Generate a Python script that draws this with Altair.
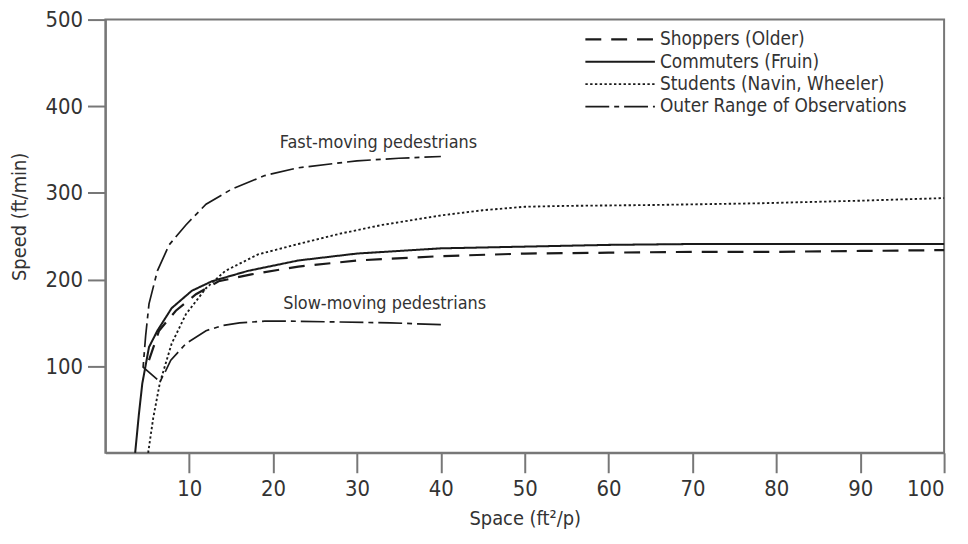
import altair as alt
import pandas as pd

# ---- data ----
series_names = [
    "Shoppers (Older)",
    "Commuters (Fruin)",
    "Students (Navin, Wheeler)",
    "Outer Range of Observations",
]

shoppers_x = [5.2, 6.4, 8.4, 10.8, 13.5, 17.4, 23, 30, 40, 50, 60, 70, 80, 90, 100]
shoppers_y = [107, 141, 164, 183, 198, 206, 215, 222, 227, 230, 231, 232, 232, 233, 234]

commuters_x = [3.55, 4.0, 4.4, 5.2, 6.2, 7.9, 10.3, 12.7, 17, 23, 30, 40, 50, 60, 70, 80, 90, 100]
commuters_y = [0, 45, 80, 122, 141, 167, 187, 198, 210, 222, 230, 236, 238, 240, 241, 241, 241, 241]

students_x = [5.1, 5.7, 6.5, 7.9, 9.6, 12, 14.3, 18.2, 23, 28, 33, 40, 45, 50, 55, 65, 78, 90, 100]
students_y = [0, 40, 81, 126, 160, 190, 210, 229, 241, 253, 263, 274, 280, 284, 285, 286, 288, 291, 294]

# outer envelope: slow-moving branch (right to left), joint, fast-moving branch
outer_x = [40, 34, 28, 22, 19, 16, 14, 12, 9.6, 7.8, 7.2, 6.5, 4.5, 4.8, 5.2, 6.2, 7.6, 9.6, 12, 15, 19, 23, 30, 35, 40]
outer_y = [148, 150, 151, 152, 152, 150, 147, 141, 126, 107, 95, 82, 99, 135, 172, 210, 240, 263, 287, 304, 320, 329, 337, 340, 342]

annotation_text = ["Fast-moving pedestrians", "Slow-moving pedestrians"]
annotation_x = [20.8, 21.2]
annotation_y = [357, 172]

x_ticks = [10, 20, 30, 40, 50, 60, 70, 80, 90, 100]
y_ticks = [100, 200, 300, 400, 500]

# ---- tables ----
rows = []
for name, xs, ys in zip(series_names,
                        [shoppers_x, commuters_x, students_x, outer_x],
                        [shoppers_y, commuters_y, students_y, outer_y]):
    for i, (xv, yv) in enumerate(zip(xs, ys)):
        rows.append({"series": name, "x": xv, "y": yv, "seq": i})
df = pd.DataFrame(rows)

ann = pd.DataFrame({"label": annotation_text, "x": annotation_x, "y": annotation_y})

FONT = "Liberation Sans Narrow, DejaVu Sans Condensed, sans-serif"
INK = "#1a1a1a"
TXT = "#333333"

x_enc = alt.X(
    "x:Q",
    scale=alt.Scale(domain=[0, 100], nice=False, zero=False),
    axis=alt.Axis(values=x_ticks, title="Space (ft²/p)", tickSize=20, labelPadding=6,
                  titleX=422, titleY=66, titleBaseline="middle", titleAlign="center"),
)
y_enc = alt.Y(
    "y:Q",
    scale=alt.Scale(domain=[0, 500], nice=False),
    axis=alt.Axis(values=y_ticks, title="Speed (ft/min)", tickSize=18, labelPadding=5,
                  titleX=-86, titleY=198, titleBaseline="middle", titleAlign="center"),
)

lines = alt.Chart(df).mark_line(color=INK).encode(
    x=x_enc,
    y=y_enc,
    strokeDash=alt.StrokeDash(
        "series:N",
        scale=alt.Scale(domain=series_names,
                        range=[[16, 10], [1, 0], [2.4, 2.4], [24, 5, 5, 5]]),
        legend=alt.Legend(
            title=None, orient="none", legendX=508, legendY=10,
            symbolType="M-4,0H4", symbolSize=306, symbolStrokeWidth=2,
            symbolStrokeColor=INK, labelOffset=30, rowPadding=2.5,
            labelFont=FONT, labelFontSize=19, labelColor=TXT, labelLimit=400,
        ),
    ),
    strokeWidth=alt.StrokeWidth(
        "series:N",
        scale=alt.Scale(domain=series_names, range=[2.2, 1.7, 2.4, 2.2]),
        legend=None,
    ),
    order="seq:Q",
)

texts = alt.Chart(ann).mark_text(
    align="left", baseline="middle", font=FONT, fontSize=18, color=TXT
).encode(x="x:Q", y="y:Q", text="label:N")

chart = (
    alt.layer(lines, texts)
    .properties(
        width=844, height=436,
        padding={"left": 98, "top": 10, "right": 16, "bottom": 80},
        autosize=alt.AutoSizeParams(type="none"),
        background="white",
    )
    .configure_view(stroke="#777777", strokeWidth=2)
    .configure_axis(
        grid=False, domainColor="#777777", domainWidth=2,
        tickColor="#777777", tickWidth=2,
        labelColor=TXT, titleColor=TXT,
        labelFont=FONT, titleFont=FONT,
        labelFontSize=22, titleFontSize=20, titleFontWeight="normal",
    )
)

chart.save("out.html", embed_options={"renderer": "svg", "actions": False})
